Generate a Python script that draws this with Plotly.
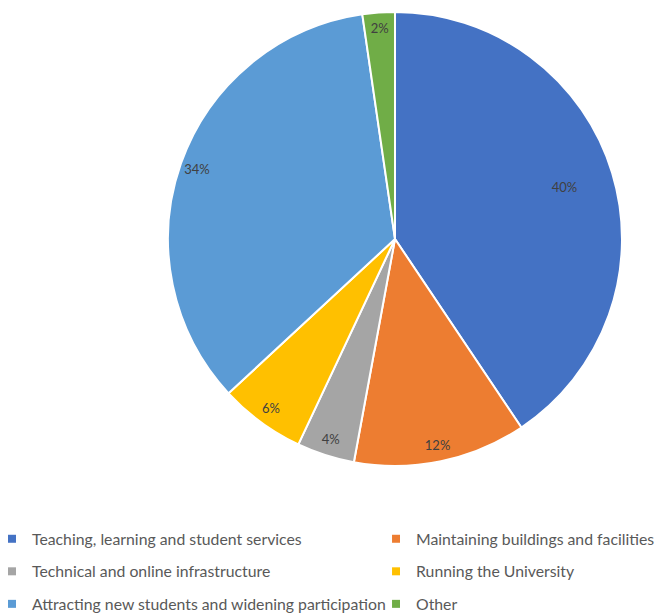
import plotly.graph_objects as go

categories = [
    "Teaching, learning and student services",
    "Maintaining buildings and facilities",
    "Technical and online infrastructure",
    "Running the University",
    "Attracting new students and widening participation",
    "Other",
]
shares = [40.6, 12.3, 4.1, 6.1, 34.6, 2.3]
shown_labels = ["40%", "12%", "4%", "6%", "34%", "2%"]
colors = ["#4472C4", "#ED7D31", "#A5A5A5", "#FFC000", "#5B9BD5", "#70AD47"]
legend_column = ["legend", "legend2", "legend", "legend2", "legend", "legend2"]

PIE_DOMAIN = dict(x=[0.2388, 0.9164], y=[0.2529, 0.9935])
LABEL_FONT = dict(family="Lato, sans-serif", size=13, color="#404040")

fig = go.Figure()

# main pie (coloured slices)
fig.add_trace(go.Pie(
    labels=categories, values=shares,
    marker=dict(colors=colors, line=dict(color="white", width=2)),
    textinfo="none", sort=False, direction="clockwise", rotation=0,
    hoverinfo="label+percent", showlegend=False, domain=PIE_DOMAIN,
))

# data labels near the rim (transparent ring carrying the text)
outer_text = [t if i != 0 else "" for i, t in enumerate(shown_labels)]
fig.add_trace(go.Pie(
    labels=categories, values=shares, hole=0.85,
    marker=dict(colors=["rgba(0,0,0,0)"] * len(shares), line=dict(width=0)),
    text=outer_text, textinfo="text", textposition="inside",
    insidetextorientation="horizontal", textfont=LABEL_FONT,
    sort=False, direction="clockwise", rotation=0,
    hoverinfo="skip", showlegend=False, domain=PIE_DOMAIN,
))
# label of the largest slice, a bit further inward
inner_text = [t if i == 0 else "" for i, t in enumerate(shown_labels)]
fig.add_trace(go.Pie(
    labels=categories, values=shares, hole=0.56,
    marker=dict(colors=["rgba(0,0,0,0)"] * len(shares), line=dict(width=0)),
    text=inner_text, textinfo="text", textposition="inside",
    insidetextorientation="horizontal", textfont=LABEL_FONT,
    sort=False, direction="clockwise", rotation=0,
    hoverinfo="skip", showlegend=False, domain=PIE_DOMAIN,
))

# legend entries (two columns)
for name, col, leg in zip(categories, colors, legend_column):
    fig.add_trace(go.Scatter(
        x=[None], y=[None], mode="markers", name=name,
        marker=dict(symbol="square", size=8, color=col),
        legend=leg, legendgroup=name, showlegend=True, hoverinfo="skip",
    ))

legend_common = dict(
    orientation="v", yanchor="top", xanchor="left",
    font=dict(family="Lato, sans-serif", size=15.8, color="#595959"),
    tracegroupgap=9, bgcolor="rgba(0,0,0,0)", itemclick=False, itemdoubleclick=False,
)

fig.update_layout(
    width=670, height=613,
    margin=dict(l=0, r=0, t=0, b=0, autoexpand=False),
    paper_bgcolor="white", plot_bgcolor="rgba(0,0,0,0)",
    xaxis=dict(visible=False), yaxis=dict(visible=False),
    legend=dict(x=-0.0239, y=0.1615, **legend_common),
    legend2=dict(x=0.5493, y=0.1615, **legend_common),
)

fig.write_html("out.html")
